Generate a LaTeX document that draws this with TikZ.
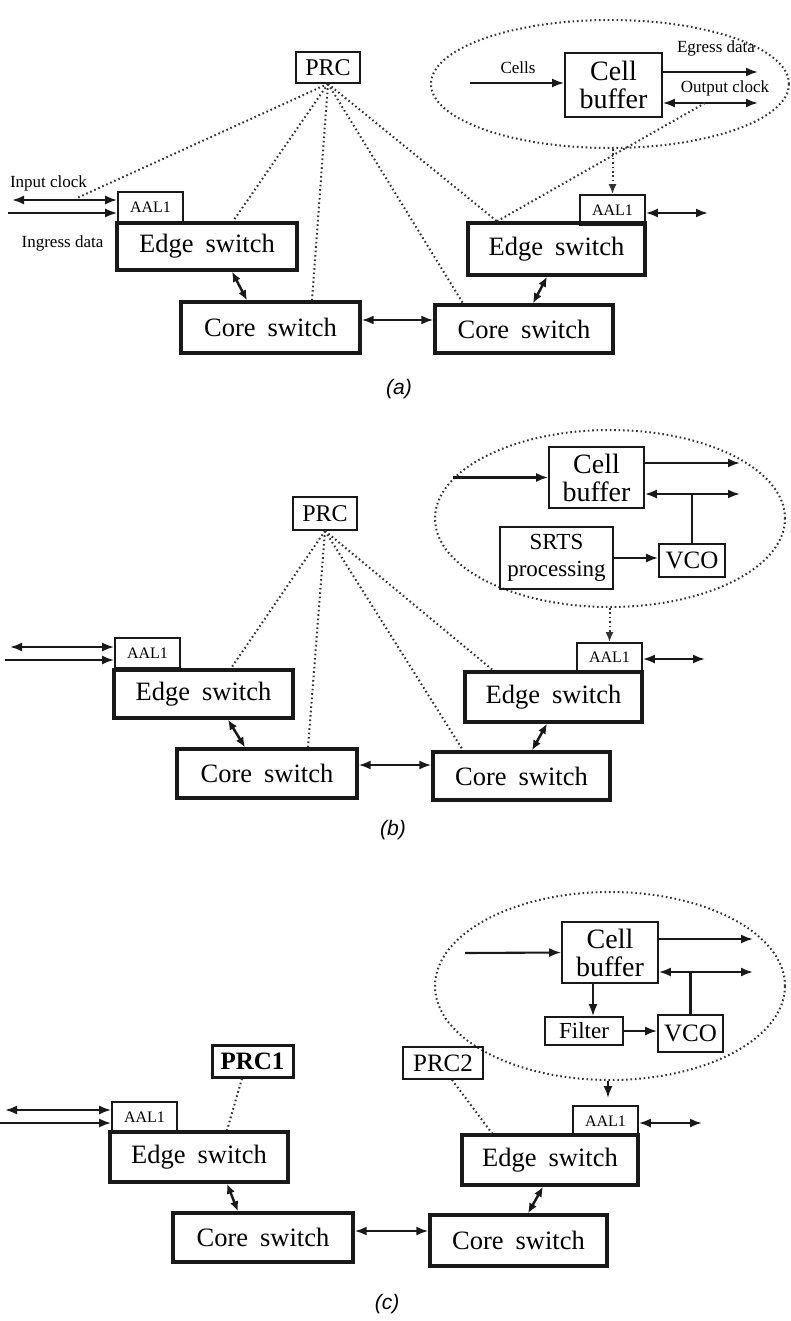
\documentclass[tikz,border=0pt]{standalone}
\usepackage{fontspec}
\setmainfont{Liberation Serif}
\newfontfamily\capfont{Liberation Sans}
\usetikzlibrary{arrows.meta,shapes.geometric}
\begin{document}
\begin{tikzpicture}[x=1pt,y=-1pt,
  thickbox/.style={draw=black!90, line width=3.4pt, inner sep=0pt, font=\fontsize{26.5}{28}\selectfont},
  thinbox/.style={draw=black!90, line width=1.7pt, inner sep=0pt},
  aalbox/.style={thinbox, font=\fontsize{16}{18}\selectfont},
  prcbox/.style={thinbox, font=\fontsize{24}{26}\selectfont},
  cellbox/.style={thinbox, align=center, font=\fontsize{28}{28}\selectfont},
  midbox/.style={thinbox, align=center, font=\fontsize{23}{27}\selectfont},
  lab/.style={inner sep=0pt, font=\fontsize{17}{19}\selectfont},
  captext/.style={inner sep=0pt, font=\capfont\itshape\fontsize{21}{24}\selectfont},
  cloud/.style={draw=black!80, ellipse, line width=2pt, dash pattern=on 1.6pt off 2.8pt, inner sep=0pt},
  dots/.style={draw=black!80, line width=2pt, dash pattern=on 1.6pt off 2.8pt},
  arr/.style={draw=black!90, line width=2.1pt, -{Latex[length=12pt,width=9pt]}},
  darr/.style={draw=black!90, line width=2.1pt, {Latex[length=12pt,width=9pt]}-{Latex[length=12pt,width=9pt]}},
  sarr/.style={draw=black!90, line width=2.5pt, {Latex[length=10pt,width=8.5pt]}-{Latex[length=10pt,width=8.5pt]}},
  plain/.style={draw=black!90, line width=2.1pt},
]
\useasboundingbox (0,0) rectangle (791,1321);
\def\ES{Edge\hskip0.45em switch}
\def\CS{Core\hskip0.45em switch}

% ================= (a) =================
\node[cloud, minimum width=358pt, minimum height=128pt] (aEll) at (610,84) {};
\node[prcbox, minimum width=64pt, minimum height=31pt] (aPRC) at (328,67.5) {PRC};
\node[aalbox, minimum width=65pt, minimum height=30pt] (aAALL) at (150.5,207) {AAL1};
\node[thickbox, minimum width=180pt, minimum height=47pt] (aEdgeL) at (207,246.5) {\ES};
\node[thickbox, minimum width=179pt, minimum height=51pt] (aCoreL) at (270.5,327.5) {\CS};
\node[aalbox, minimum width=65pt, minimum height=30pt] (aAALR) at (612.5,210) {AAL1};
\node[thickbox, minimum width=177pt, minimum height=52pt] (aEdgeR) at (556.5,249) {\ES};
\node[thickbox, minimum width=178pt, minimum height=48pt] (aCoreR) at (524,329) {\CS};
\node[cellbox, minimum width=97pt, minimum height=64pt] (aCell) at (613.5,85) {Cell\\buffer};

\node[lab] (aLin) at (48.5,183) {Input clock};
\node[lab] (aLing) at (62.5,243) {Ingress data};
\node[lab] (aLcells) at (518,68) {Cells};
\node[lab] (aLeg) at (716,48) {Egress data};
\node[lab] (aLoc) at (725,88) {Output clock};

\coordinate (aInClk) at (12,200);
\coordinate (aInDat) at (8,213);
\coordinate (aTap) at (77,198);
\coordinate (aCellsIn) at (470,83);
\coordinate (aEgOut) at (758,72);
\coordinate (aOcOut) at (758,103);
\coordinate (aOcTap) at (705,103);
\coordinate (aROut) at (708,213);

\draw[darr] (aInClk) -- ([yshift=7pt]aAALL.west);
\draw[arr] (aInDat) -- ([yshift=-6pt]aAALL.west);
\draw[sarr] ([xshift=25pt]aEdgeL.south) -- ([xshift=-23.5pt]aCoreL.north);
\draw[darr] ([yshift=7.5pt]aCoreL.east) -- ([yshift=7.5pt]aCoreL.east -| aCoreR.west);
\draw[sarr] ([xshift=-9.5pt]aEdgeR.south) -- ([xshift=9pt]aCoreR.north);
\draw[darr] ([yshift=-3pt]aAALR.east) -- (aROut);
\draw[arr] (aCellsIn) -- ([yshift=2pt]aCell.west);
\draw[arr] ([yshift=13pt]aCell.east) -- (aEgOut);
\draw[darr] ([yshift=-18pt]aCell.east) -- (aOcOut);
\draw[dots, -{Latex[length=10pt,width=8pt]}] (aEll.south -| aAALR.north) -- (aAALR.north);
\draw[dots] ([xshift=-59.5pt]aEdgeR.north) -- (aOcTap);
\draw[dots] (aPRC.south) -- (aTap);
\draw[dots] (aPRC.south) -- ([xshift=26pt]aEdgeL.north);
\draw[dots] (aPRC.south) -- ([xshift=41.5pt]aCoreL.north);
\draw[dots] (aPRC.south) -- ([xshift=-61pt]aCoreR.north);
\draw[dots] (aPRC.south) -- ([xshift=-59.5pt]aEdgeR.north);
\node[captext] (capA) at (399,389) {(a)};

% ================= (b) =================
\node[cloud, minimum width=350pt, minimum height=177pt] (bEll) at (610,518.5) {};
\node[prcbox, minimum width=64pt, minimum height=33pt] (bPRC) at (325,513.5) {PRC};
\node[aalbox, minimum width=65pt, minimum height=30pt] (bAALL) at (147.5,653) {AAL1};
\node[thickbox, minimum width=179pt, minimum height=48pt] (bEdgeL) at (203.5,694) {\ES};
\node[thickbox, minimum width=180pt, minimum height=49pt] (bCoreL) at (267,773.5) {\CS};
\node[aalbox, minimum width=65pt, minimum height=29pt] (bAALR) at (609.5,657.5) {AAL1};
\node[thickbox, minimum width=177pt, minimum height=50pt] (bEdgeR) at (553.5,697) {\ES};
\node[thickbox, minimum width=177pt, minimum height=48pt] (bCoreR) at (521.5,776) {\CS};
\node[cellbox, minimum width=95pt, minimum height=61pt] (bCell) at (596.5,477.5) {Cell\\buffer};
\node[midbox, minimum width=113pt, minimum height=62pt] (bSRTS) at (556.5,558) {SRTS\\processing};
\node[prcbox, font=\fontsize{25}{27}\selectfont, minimum width=66pt, minimum height=33pt] (bVCO) at (692,560.5) {VCO};

\coordinate (bInClk) at (10,647);
\coordinate (bInDat) at (5,660);
\coordinate (bCellsIn) at (453,477.5);
\coordinate (bEgOut) at (740,463);
\coordinate (bOcOut) at (740,494);
\coordinate (bROut) at (705,659);

\draw[darr] (bInClk) -- ([yshift=6pt]bAALL.west);
\draw[arr] (bInDat) -- ([yshift=-7pt]bAALL.west);
\draw[sarr] ([xshift=24.5pt]bEdgeL.south) -- ([xshift=-22pt]bCoreL.north);
\draw[darr] ([yshift=8.5pt]bCoreL.east) -- ([yshift=8.5pt]bCoreL.east -| bCoreR.west);
\draw[sarr] ([xshift=-6.5pt]bEdgeR.south) -- ([xshift=10.5pt]bCoreR.north);
\draw[darr] ([yshift=-1.5pt]bAALR.east) -- (bROut);
\draw[arr] (bCellsIn) -- (bCell.west);
\draw[arr] ([yshift=14.5pt]bCell.east) -- (bEgOut);
\draw[darr] ([yshift=-16.5pt]bCell.east) -- (bOcOut);
\draw[plain] (bVCO.north) -- (bVCO.north |- bOcOut);
\draw[arr] (bSRTS.east) -- (bSRTS.east -| bVCO.west);
\draw[dots, -{Latex[length=10pt,width=8pt]}] (bEll.south -| bAALR.north) -- (bAALR.north);
\draw[dots] (bPRC.south) -- ([xshift=27.5pt]bEdgeL.north);
\draw[dots] (bPRC.south) -- ([xshift=41pt]bCoreL.north);
\draw[dots] (bPRC.south) -- ([xshift=-58.5pt]bCoreR.north);
\draw[dots] (bPRC.south) -- ([xshift=-60.5pt]bEdgeR.north);
\node[captext] (capB) at (393,830) {(b)};

% ================= (c) =================
\node[cloud, minimum width=350pt, minimum height=188pt] (cEll) at (610,986) {};
\node[thinbox, line width=3pt, font=\bfseries\fontsize{25}{27}\selectfont, minimum width=81pt, minimum height=32pt] (cPRC1) at (252.5,1061) {PRC1};
\node[prcbox, font=\fontsize{25}{27}\selectfont, minimum width=80pt, minimum height=32pt] (cPRC2) at (443,1063) {PRC2};
\node[aalbox, minimum width=65pt, minimum height=30pt] (cAALL) at (144.5,1117) {AAL1};
\node[thickbox, minimum width=178pt, minimum height=50pt] (cEdgeL) at (199,1157) {\ES};
\node[thickbox, minimum width=180pt, minimum height=49pt] (cCoreL) at (263,1237.5) {\CS};
\node[aalbox, minimum width=65pt, minimum height=30pt] (cAALR) at (605.5,1121) {AAL1};
\node[thickbox, minimum width=176pt, minimum height=50pt] (cEdgeR) at (550,1160) {\ES};
\node[thickbox, minimum width=177pt, minimum height=51pt] (cCoreR) at (518.5,1240.5) {\CS};
\node[cellbox, minimum width=96pt, minimum height=61pt] (cCell) at (610,952.5) {Cell\\buffer};
\node[midbox, minimum width=78pt, minimum height=28pt] (cFilter) at (584,1031) {Filter};
\node[prcbox, font=\fontsize{25}{27}\selectfont, minimum width=65pt, minimum height=37pt] (cVCO) at (690.5,1033.5) {VCO};

\coordinate (cInClk) at (5,1110);
\coordinate (cInDat) at (0,1123);
\coordinate (cCellsIn) at (465,953);
\coordinate (cEgOut) at (753,939);
\coordinate (cOcOut) at (753,972);
\coordinate (cROut) at (702,1123);
\coordinate (cDn) at (608,1098);

\draw[darr] (cInClk) -- ([yshift=7pt]cAALL.west);
\draw[arr] (cInDat) -- ([yshift=-6pt]cAALL.west);
\draw[sarr] ([xshift=28pt]cEdgeL.south) -- ([xshift=-25pt]cCoreL.north);
\draw[darr] ([yshift=6.5pt]cCoreL.east) -- ([yshift=6.5pt]cCoreL.east -| cCoreR.west);
\draw[sarr] ([xshift=-7pt]cEdgeR.south) -- ([xshift=9.5pt]cCoreR.north);
\draw[darr] ([yshift=-2pt]cAALR.east) -- (cROut);
\draw[arr] (cCellsIn) -- (cCell.west);
\draw[arr] ([yshift=13.5pt]cCell.east) -- (cEgOut);
\draw[darr] ([yshift=-19.5pt]cCell.east) -- (cOcOut);
\draw[plain] (cVCO.north) -- (cVCO.north |- cOcOut);
\draw[arr] ([xshift=9pt]cFilter.north |- cCell.south) -- ([xshift=9pt]cFilter.north);
\draw[arr] (cFilter.east) -- (cFilter.east -| cVCO.west);
\draw[arr] (cEll.south -| cDn) -- (cDn);
\draw[dots] ([xshift=-10.5pt]cPRC1.south) -- ([xshift=28pt]cEdgeL.north);
\draw[dots] ([xshift=9pt]cPRC2.south) -- ([xshift=-58pt]cEdgeR.north);
\node[captext] (capC) at (387,1304) {(c)};
\end{tikzpicture}
\end{document}
